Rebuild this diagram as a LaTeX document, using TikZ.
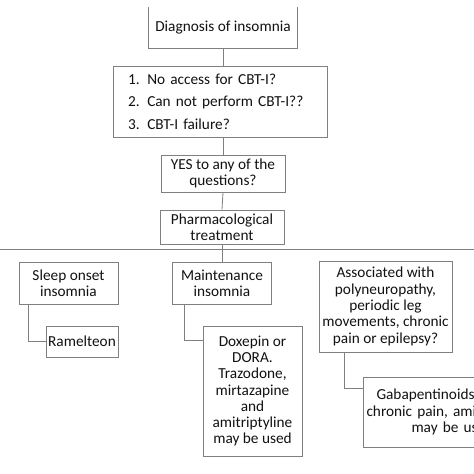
\documentclass[tikz,border=0pt]{standalone}
\usepackage{fontspec}
\setmainfont{Carlito}
\usetikzlibrary{calc}
\definecolor{linegray}{HTML}{808080}
\definecolor{txt}{HTML}{111111}
\begin{document}
\begin{tikzpicture}[x=1pt,y=-1pt,
  every node/.style={font=\fontsize{15.3}{16.3}\selectfont, text=txt},
  box/.style={draw=linegray, line width=0.8pt, align=center, inner sep=0pt},
  conn/.style={draw=linegray, line width=0.8pt}]
\useasboundingbox (0,0) rectangle (474,474);
\clip (0,0) rectangle (474,474);
% top box (top edge not shown)
\node[align=center, inner sep=0pt, minimum width=148pt, minimum height=41pt] (diag) at (223,27.5) {Diagnosis of insomnia};
\draw[conn] (diag.north west) |- (diag.south east) -- (diag.north east);
% questions
\node[box, minimum width=214pt, minimum height=71pt, text width=184pt, align=left, inner xsep=15pt] (q) at (220,101.5)
  {1. No access for CBT-I?\\[6.2pt] 2. Can not perform CBT-I??\\[6.2pt] 3. CBT-I failure?};
\node[box, minimum width=124pt, minimum height=37pt] (yes) at (223,173.5) {YES to any of the\\questions?};
\node[box, minimum width=124pt, minimum height=34pt] (pharm) at (222,227) {Pharmacological\\treatment};
\coordinate (hl) at (0,249);
\coordinate (hr) at (474,249);
\draw[conn] (hl) -- (hr);
% level 2
\node[box, minimum width=99pt, minimum height=42pt] (sleep) at (68.5,283) {Sleep onset\\insomnia};
\node[box, minimum width=72pt, minimum height=31pt] (ramel) at (82,341.5) {Ramelteon};
\node[box, minimum width=99pt, minimum height=42pt] (maint) at (222,283) {Maintenance\\insomnia};
\node[box, minimum width=99pt, minimum height=130pt] (dox) at (252.5,391) {Doxepin or\\DORA.\\Trazodone,\\mirtazapine\\and\\amitriptyline\\may be used};
\node[box, minimum width=138pt, minimum height=91pt, minimum width=133pt] (assoc) at (385.5,306.5) {Associated with\\polyneuropathy,\\periodic leg\\movements, chronic\\pain or epilepsy?};
\node[box, minimum width=138pt, minimum height=70pt, text width=131pt, align=left, inner xsep=3pt] (gaba) at (432,412)
  {\hspace*{10pt}Gabapentinoids\\chronic pain, ami\\\hspace*{45pt}may be us};
% connectors
\draw[conn] (diag.south) -- (diag.south |- q.north);
\draw[conn] (yes.north) -- (yes.north |- q.south);
\draw[conn] (yes.south) -- (pharm.north);
\draw[conn] (pharm.south) -- (maint.north);
\draw[conn] ($(sleep.south west)+(10,0)$) |- (ramel.west);
\draw[conn] ($(maint.south west)+(12,0)$) |- ($(dox.north west)+(0,15)$);
\draw[conn] ($(assoc.south west)+(26,0)$) |- ($(gaba.north west)+(0,12)$);
\end{tikzpicture}
\end{document}
